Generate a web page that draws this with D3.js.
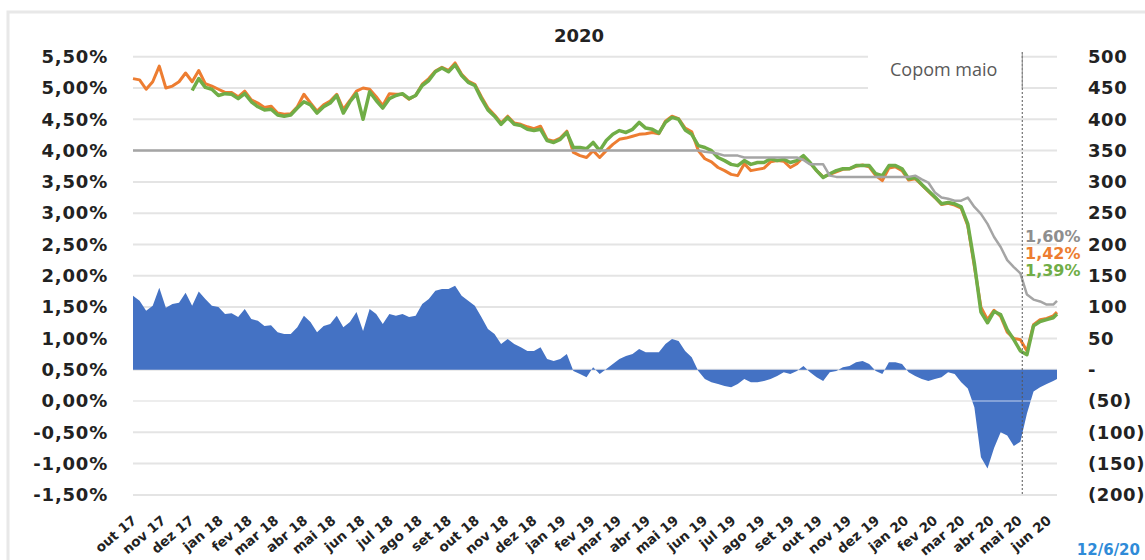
<!DOCTYPE html>
<html>
<head>
<meta charset="utf-8">
<script src="https://cdn.jsdelivr.net/npm/d3@7"></script>
<style>
  body { margin: 0; background: #fff; }
  svg { display: block; }
</style>
</head>
<body>
<svg id="chart" width="1145" height="560"></svg>
<script>
// ---- data ----
const startDate = new Date(2017, 9, 2);
const lastDate = new Date(2020, 5, 12);
// weekly observations plus the latest close
const dates = d3.range(141).map(i => d3.timeDay.offset(startDate, 7 * i)).concat([lastDate]);

// orange series (% a.a.)
const orangeSeries = [
  5.15, 5.13, 4.98, 5.10, 5.35, 5.00, 5.03, 5.10, 5.24, 5.10,
  5.28, 5.07, 5.03, 4.98, 4.93, 4.93, 4.86, 4.95, 4.81, 4.76,
  4.69, 4.71, 4.60, 4.58, 4.59, 4.70, 4.90, 4.76, 4.63, 4.73,
  4.79, 4.90, 4.66, 4.80, 4.95, 5.00, 4.98, 4.86, 4.72, 4.91,
  4.90, 4.90, 4.82, 4.88, 5.06, 5.15, 5.27, 5.33, 5.28, 5.40,
  5.22, 5.11, 5.06, 4.86, 4.68, 4.57, 4.44, 4.55, 4.44, 4.42,
  4.38, 4.35, 4.39, 4.18, 4.15, 4.20, 4.31, 3.97, 3.92, 3.89,
  4.00, 3.89, 4.00, 4.10, 4.18, 4.20, 4.23, 4.26, 4.27, 4.29,
  4.27, 4.47, 4.55, 4.51, 4.36, 4.30, 4.00, 3.87, 3.82, 3.73,
  3.68, 3.62, 3.60, 3.79, 3.68, 3.70, 3.72, 3.82, 3.84, 3.83,
  3.73, 3.79, 3.90, 3.80, 3.68, 3.58, 3.62, 3.66, 3.70, 3.71,
  3.75, 3.77, 3.74, 3.60, 3.52, 3.72, 3.74, 3.68, 3.53, 3.55,
  3.45, 3.35, 3.25, 3.14, 3.16, 3.13, 3.08, 2.80, 2.15, 1.50,
  1.30, 1.45, 1.35, 1.10, 1.00, 0.98, 0.80, 1.22, 1.30, 1.32,
  1.36, 1.42
];

// green series (% a.a.), starts later
const greenSeries = [
  null, null, null, null, null, null, null, null, null, 4.96,
  5.15, 5.01, 4.98, 4.88, 4.91, 4.90, 4.83, 4.91, 4.78, 4.70,
  4.65, 4.66, 4.57, 4.55, 4.57, 4.68, 4.78, 4.73, 4.60, 4.70,
  4.76, 4.88, 4.60, 4.78, 4.91, 4.50, 4.94, 4.80, 4.68, 4.83,
  4.88, 4.91, 4.83, 4.88, 5.04, 5.12, 5.26, 5.32, 5.26, 5.37,
  5.20, 5.09, 5.04, 4.83, 4.65, 4.55, 4.42, 4.53, 4.42, 4.40,
  4.34, 4.32, 4.34, 4.16, 4.13, 4.18, 4.29, 4.05, 4.05, 4.03,
  4.13, 4.00, 4.16, 4.26, 4.32, 4.29, 4.34, 4.45, 4.36, 4.34,
  4.28, 4.45, 4.53, 4.50, 4.33, 4.26, 4.08, 4.05, 4.00, 3.89,
  3.84, 3.78, 3.76, 3.84, 3.78, 3.81, 3.81, 3.87, 3.84, 3.86,
  3.81, 3.84, 3.92, 3.81, 3.68, 3.57, 3.63, 3.68, 3.71, 3.71,
  3.76, 3.76, 3.76, 3.63, 3.60, 3.76, 3.76, 3.71, 3.55, 3.57,
  3.46, 3.36, 3.26, 3.15, 3.17, 3.15, 3.10, 2.83, 2.20, 1.42,
  1.25, 1.43, 1.38, 1.14, 0.98, 0.80, 0.74, 1.20, 1.27, 1.30,
  1.33, 1.39
];

// grey series (% a.a.)
const greySeries = [
  4.00, 4.00, 4.00, 4.00, 4.00, 4.00, 4.00, 4.00, 4.00, 4.00,
  4.00, 4.00, 4.00, 4.00, 4.00, 4.00, 4.00, 4.00, 4.00, 4.00,
  4.00, 4.00, 4.00, 4.00, 4.00, 4.00, 4.00, 4.00, 4.00, 4.00,
  4.00, 4.00, 4.00, 4.00, 4.00, 4.00, 4.00, 4.00, 4.00, 4.00,
  4.00, 4.00, 4.00, 4.00, 4.00, 4.00, 4.00, 4.00, 4.00, 4.00,
  4.00, 4.00, 4.00, 4.00, 4.00, 4.00, 4.00, 4.00, 4.00, 4.00,
  4.00, 4.00, 4.00, 4.00, 4.00, 4.00, 4.00, 4.00, 4.00, 4.00,
  4.00, 4.00, 4.00, 4.00, 4.00, 4.00, 4.00, 4.00, 4.00, 4.00,
  4.00, 4.00, 4.00, 4.00, 4.00, 4.00, 4.00, 3.98, 3.97, 3.95,
  3.92, 3.92, 3.92, 3.89, 3.89, 3.89, 3.89, 3.89, 3.89, 3.89,
  3.89, 3.89, 3.85, 3.78, 3.78, 3.78, 3.60, 3.58, 3.58, 3.58,
  3.58, 3.58, 3.58, 3.58, 3.58, 3.58, 3.58, 3.58, 3.58, 3.60,
  3.54, 3.49, 3.33, 3.25, 3.23, 3.20, 3.20, 3.25, 3.10, 2.99,
  2.83, 2.62, 2.46, 2.25, 2.14, 2.04, 1.70, 1.62, 1.59, 1.54,
  1.54, 1.60
];

// spread in basis points (right axis)
const spreadBps = [
  118, 110, 94, 102, 131, 99, 105, 107, 123, 102,
  125, 113, 102, 100, 89, 90, 84, 97, 81, 78,
  70, 71, 60, 57, 57, 68, 86, 76, 60, 70,
  73, 86, 68, 76, 92, 62, 97, 89, 73, 89,
  86, 89, 84, 86, 105, 113, 126, 129, 129, 134,
  118, 110, 102, 84, 65, 57, 41, 49, 41, 36,
  30, 30, 36, 17, 14, 17, 25, -2, -7, -12,
  4, -7, 1, 9, 17, 22, 25, 33, 28, 28,
  28, 41, 49, 46, 30, 20, -2, -15, -20, -23,
  -26, -28, -23, -15, -20, -20, -18, -15, -10, -4,
  -7, -2, 6, -4, -12, -18, -4, -2, 4, 6,
  12, 14, 9, -2, -7, 12, 12, 9, -4, -10,
  -15, -18, -15, -12, -4, -7, -20, -30, -60, -140,
  -158, -125, -100, -105, -122, -115, -70, -35, -28, -23,
  -18, -15
];

const leftTicks = [-1.5, -1, -0.5, 0, 0.5, 1, 1.5, 2, 2.5, 3, 3.5, 4, 4.5, 5, 5.5];
const leftLabels = ["-1,50%", "-1,00%", "-0,50%", "0,00%", "0,50%", "1,00%", "1,50%", "2,00%",
  "2,50%", "3,00%", "3,50%", "4,00%", "4,50%", "5,00%", "5,50%"];
const rightTicks = [-200, -150, -100, -50, 0, 50, 100, 150, 200, 250, 300, 350, 400, 450, 500];
const rightLabels = ["(200)", "(150)", "(100)", "(50)", "-", "50", "100", "150", "200",
  "250", "300", "350", "400", "450", "500"];
const monthLabels = ["out 17", "nov 17", "dez 17", "jan 18", "fev 18", "mar 18", "abr 18", "mai 18",
  "jun 18", "jul 18", "ago 18", "set 18", "out 18", "nov 18", "dez 18", "jan 19", "fev 19",
  "mar 19", "abr 19", "mai 19", "jun 19", "jul 19", "ago 19", "set 19", "out 19", "nov 19",
  "dez 19", "jan 20", "fev 20", "mar 20", "abr 20", "mai 20", "jun 20"];
const monthDates = d3.timeMonth.range(new Date(2017, 9, 1), new Date(2020, 6, 1));
const endLabels = [
  { text: "1,60%", color: "#8e8e8e" },
  { text: "1,42%", color: "#ED7D31" },
  { text: "1,39%", color: "#70AD47" }
];
const copomDate = new Date(2020, 4, 6);

// ---- layout ----
const svg = d3.select("#chart");
const plot = { left: 133, right: 1057, top: 56.7, bottom: 494.9 };
const boldFont = "'DejaVu Sans', Verdana, sans-serif";

const x = d3.scaleTime().domain([startDate, lastDate]).range([plot.left, plot.right]);
const yL = d3.scaleLinear().domain([-1.5, 5.5]).range([plot.bottom, plot.top]);
const yR = d3.scaleLinear().domain([-200, 500]).range([plot.bottom, plot.top]);

// outer frame
svg.append("rect")
  .attr("x", 8).attr("y", 12).attr("width", 1160).attr("height", 580)
  .attr("fill", "none").attr("stroke", "#e8e8e8").attr("stroke-width", 3);

// title
svg.append("text")
  .attr("x", 579).attr("y", 42).attr("text-anchor", "middle")
  .attr("font-family", boldFont).attr("font-weight", "bold").attr("font-size", 18)
  .attr("fill", "#222").text("2020");

// gridlines
svg.append("g").selectAll("line").data(leftTicks).join("line")
  .attr("x1", plot.left).attr("x2", plot.right)
  .attr("y1", d => yL(d)).attr("y2", d => yL(d))
  .attr("stroke", "#e4e4e4").attr("stroke-width", 2);

// spread area
const area = d3.area()
  .x((d, i) => x(dates[i]))
  .y0(yR(0))
  .y1(d => yR(d));
svg.append("path").datum(spreadBps)
  .attr("d", area).attr("fill", "#4472C4");

// zero-percent gridline stays visible over the area
svg.append("line")
  .attr("x1", plot.left).attr("x2", plot.right)
  .attr("y1", yL(0)).attr("y2", yL(0))
  .attr("stroke", "#ffffff").attr("stroke-opacity", 0.45).attr("stroke-width", 1.5);

// rate lines
const line = d3.line()
  .defined(d => d != null)
  .x((d, i) => x(dates[i]))
  .y(d => yL(d));
svg.append("path").datum(orangeSeries).attr("d", line)
  .attr("fill", "none").attr("stroke", "#ED7D31").attr("stroke-width", 3).attr("stroke-linejoin", "round");
svg.append("path").datum(greenSeries).attr("d", line)
  .attr("fill", "none").attr("stroke", "#70AD47").attr("stroke-width", 3.5).attr("stroke-linejoin", "round");
svg.append("path").datum(greySeries).attr("d", line)
  .attr("fill", "none").attr("stroke", "#A5A5A5").attr("stroke-width", 2.5).attr("stroke-linejoin", "round");

// left axis
const axL = svg.append("g").attr("transform", `translate(${plot.left},0)`)
  .call(d3.axisLeft(yL).tickValues(leftTicks).tickSize(0).tickPadding(25)
    .tickFormat((d, i) => leftLabels[i]));
axL.select(".domain").remove();
axL.selectAll("text")
  .attr("font-family", boldFont).attr("font-weight", "bold").attr("font-size", 18)
  .attr("letter-spacing", 0.8).attr("fill", "#222");

// right axis
const axR = svg.append("g").attr("transform", `translate(${plot.right},0)`)
  .call(d3.axisRight(yR).tickValues(rightTicks).tickSize(0).tickPadding(31)
    .tickFormat((d, i) => rightLabels[i]));
axR.select(".domain").remove();
axR.selectAll("text")
  .attr("font-family", boldFont).attr("font-weight", "bold").attr("font-size", 18)
  .attr("letter-spacing", 0.6).attr("fill", "#222");

// bottom axis with slanted month labels
const axB = svg.append("g").attr("transform", `translate(0,${plot.bottom})`)
  .call(d3.axisBottom(x).tickValues(monthDates).tickSize(0)
    .tickFormat((d, i) => monthLabels[i]));
axB.select(".domain").remove();
axB.selectAll("text")
  .attr("y", 0).attr("dy", 0)
  .attr("text-anchor", "end")
  .attr("transform", "translate(5,27) rotate(-40)")
  .attr("font-family", boldFont).attr("font-weight", "bold").attr("font-size", 13.5)
  .attr("fill", "#222");

// Copom annotation
svg.append("line")
  .attr("x1", x(copomDate)).attr("x2", x(copomDate))
  .attr("y1", 52).attr("y2", plot.bottom)
  .attr("stroke", "#555").attr("stroke-width", 1).attr("stroke-dasharray", "2,2");
svg.append("rect")
  .attr("x", 868).attr("y", 46).attr("width", x(copomDate) - 868 - 1).attr("height", 44)
  .attr("fill", "#fff");
svg.append("line")
  .attr("x1", x(copomDate)).attr("x2", x(copomDate))
  .attr("y1", 52).attr("y2", 88)
  .attr("stroke", "#888").attr("stroke-width", 1);
svg.append("text")
  .attr("x", 890).attr("y", 76)
  .attr("font-family", "'Open Sans', sans-serif").attr("font-size", 18)
  .attr("fill", "#595959").text("Copom maio");

// latest values
svg.append("g").selectAll("text").data(endLabels).join("text")
  .attr("x", 1025).attr("y", (d, i) => 242 + i * 17)
  .attr("font-family", boldFont).attr("font-weight", "bold").attr("font-size", 16)
  .attr("fill", d => d.color).text(d => d.text);

// reference date
svg.append("text")
  .attr("x", 1140).attr("y", 555).attr("text-anchor", "end")
  .attr("font-family", boldFont).attr("font-weight", "bold").attr("font-size", 15)
  .attr("fill", "#2f8bd8").text("12/6/20");
</script>
</body>
</html>
